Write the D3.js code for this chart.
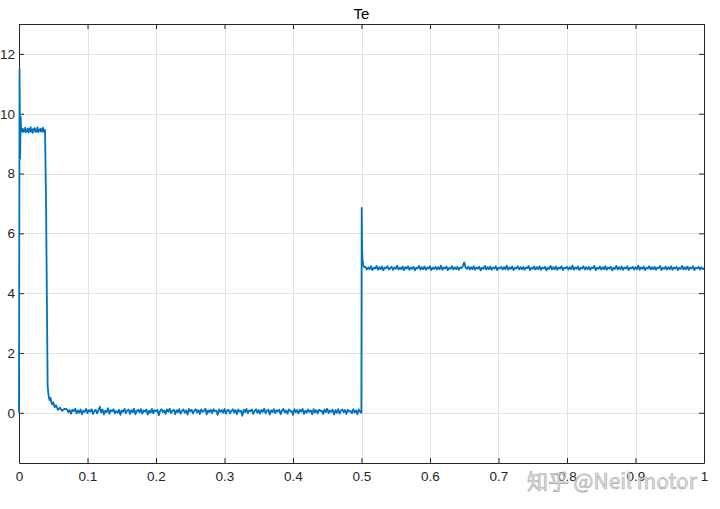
<!DOCTYPE html>
<html><head><meta charset="utf-8">
<script src="https://cdn.jsdelivr.net/npm/d3@7"></script>
<style>body{margin:0;background:#fff}svg{display:block}text{font-family:"Liberation Sans",Arial,sans-serif}</style>
</head><body>
<svg id="c" width="720" height="509"></svg>
<script>
// ---- data ----
const title = "Te";
const xTicks = [0,0.1,0.2,0.3,0.4,0.5,0.6,0.7,0.8,0.9,1];
const xTickLabels = ["0","0.1","0.2","0.3","0.4","0.5","0.6","0.7","0.8","0.9","1"];
const yTicks = [0,2,4,6,8,10,12];
const xDomain = [0,1];
const yDomain = [-1.68,13];

// startup transient (time, value)
const startT = [0,0.0008,0.0016,0.0024,0.0032];
const startV = [0,11.5,8.5,9.9,9.4];
// first plateau samples (start time, step, values)
const plat1Start = 0.004, plat1Step = 0.001;
const plat1V = [9.42,9.5,9.39,9.47,9.41,9.53,9.38,9.46,9.43,9.51,9.37,9.48,9.42,9.55,9.4,9.46,9.36,9.5,9.44,9.52,9.39,9.47,9.41,9.54,9.38,9.45,9.43,9.5,9.4,9.48,9.42,9.53,9.39,9.46];
// drop transient
const dropT = [0.038,0.0395,0.041,0.0418,0.043,0.0445,0.046,0.048,0.05,0.052,0.054,0.057,0.06,0.063,0.066];
const dropV = [9.45,7.0,3.0,0.9,0.6,0.42,0.5,0.28,0.35,0.18,0.25,0.1,0.17,0.06,0.13];
// near-zero samples
const zeroStart = 0.07, zeroStep = 0.002;
const zeroV = [
0.12,0.02,0.09,-0.03,0.1,0.05,0.14,-0.02,0.08,0.0,0.11,-0.05,0.07,0.03,0.13,-0.01,0.09,0.04,0.12,-0.04,
0.06,0.1,-0.02,0.08,0.2,0.01,0.11,-0.06,0.07,0.02,0.15,-0.03,0.09,0.05,0.12,-0.02,0.06,0.0,0.1,-0.07,
0.08,0.03,0.13,-0.01,0.07,0.11,-0.04,0.09,0.02,0.14,-0.05,0.06,0.1,0.01,0.12,-0.03,0.08,0.04,0.11,-0.06,
0.07,0.0,0.13,-0.02,0.09,0.05,0.1,-0.08,0.06,0.12,0.02,0.08,-0.04,0.11,0.03,0.14,-0.01,0.07,0.1,-0.05,
0.09,0.02,0.12,-0.03,0.06,0.11,0.0,0.08,-0.06,0.13,0.04,0.1,-0.02,0.07,0.12,0.01,0.09,-0.04,0.11,0.03,
0.06,0.14,-0.05,0.08,0.02,0.1,-0.01,0.12,0.05,0.07,-0.07,0.11,0.03,0.09,0.0,0.13,-0.03,0.08,0.1,-0.02,
0.06,0.12,0.01,0.09,-0.05,0.11,0.04,0.07,-0.1,0.1,0.02,0.13,-0.01,0.08,0.05,0.11,-0.04,0.06,0.12,0.0,
0.09,-0.03,0.1,0.03,0.14,-0.02,0.07,0.11,-0.06,0.08,0.02,0.12,-0.01,0.09,0.04,0.1,-0.05,0.07,0.13,0.01,
0.08,-0.03,0.11,0.05,0.06,-0.07,0.12,0.02,0.09,-0.02,0.1,0.04,0.13,-0.04,0.07,0.0,0.11,0.03,0.08,-0.05,
0.12,0.01,0.09,-0.02,0.1,0.06,0.07,-0.04,0.11,0.02,0.14,-0.01,0.08,0.03,0.1,-0.06,0.09,0.0,0.12,-0.03,
0.07,0.11,0.02,0.09,-0.04,0.1,0.04,0.06,-0.02,0.12,0.01,0.08,-0.05,0.11,0.03];
// step transient at 0.5
const stepT = [0.4998,0.5003,0.5008,0.5015,0.5025,0.504];
const stepV = [0.0,6.85,5.6,5.1,4.95,4.87];
// second plateau samples
const plat2Start = 0.506, plat2Step = 0.002;
const plat2V = [
4.88,4.79,4.86,4.8,4.9,4.77,4.85,4.82,4.91,4.78,4.87,4.8,4.89,4.76,4.86,4.83,4.9,4.79,4.84,4.88,
4.78,4.86,4.81,4.92,4.79,4.85,4.8,4.89,4.77,4.87,4.82,4.9,4.78,4.86,4.81,4.88,4.76,4.85,4.83,4.91,
4.79,4.87,4.8,4.89,4.78,4.86,4.82,4.9,4.77,4.85,4.81,4.88,4.79,4.87,4.8,4.92,4.78,4.86,4.82,4.89,
4.77,4.85,4.81,4.9,4.79,4.87,4.8,4.88,4.78,4.86,4.83,4.91,5.03,4.85,4.81,4.89,4.79,4.87,4.8,4.9,
4.78,4.86,4.82,4.88,4.76,4.85,4.81,4.91,4.79,4.87,4.8,4.89,4.78,4.86,4.82,4.9,4.77,4.85,4.83,4.88,
4.79,4.87,4.8,4.92,4.78,4.86,4.81,4.89,4.77,4.85,4.82,4.9,4.79,4.87,4.8,4.88,4.78,4.86,4.83,4.91,
4.77,4.85,4.81,4.89,4.79,4.87,4.8,4.9,4.78,4.86,4.82,4.88,4.76,4.85,4.81,4.91,4.79,4.87,4.8,4.89,
4.78,4.86,4.82,4.9,4.77,4.85,4.83,4.88,4.79,4.87,4.8,4.92,4.78,4.86,4.81,4.89,4.77,4.85,4.82,4.9,
4.79,4.87,4.8,4.88,4.78,4.86,4.83,4.91,4.77,4.85,4.81,4.89,4.79,4.87,4.8,4.9,4.78,4.86,4.82,4.88,
4.76,4.85,4.81,4.91,4.79,4.87,4.8,4.89,4.78,4.86,4.82,4.9,4.77,4.85,4.83,4.88,4.79,4.87,4.8,4.92,
4.78,4.86,4.81,4.89,4.77,4.85,4.82,4.9,4.79,4.87,4.8,4.88,4.78,4.86,4.83,4.91,4.77,4.85,4.81,4.89,
4.79,4.87,4.8,4.9,4.78,4.86,4.82,4.88,4.77,4.85,4.81,4.91,4.79,4.87,4.8,4.89,4.78,4.86,4.82,4.9,
4.77,4.85,4.83,4.88,4.79,4.87,4.8,4.84];
const watermark = "知乎 @Neil motor";

// ---- build series ----
const pts = [];
startT.forEach((t,i)=>pts.push([t,startV[i]]));
plat1V.forEach((v,i)=>pts.push([plat1Start+i*plat1Step,v]));
dropT.forEach((t,i)=>pts.push([t,dropV[i]]));
zeroV.forEach((v,i)=>pts.push([zeroStart+i*zeroStep,v]));
stepT.forEach((t,i)=>pts.push([t,stepV[i]]));
plat2V.forEach((v,i)=>{const t=plat2Start+i*plat2Step; if(t<=1.0001) pts.push([Math.min(t,1),v]);});

// ---- layout ----
const W=720,H=509, m={l:19,r:16,t:24,b:46};
const svg=d3.select("#c");
const x=d3.scaleLinear().domain(xDomain).range([m.l,W-m.r]);
const y=d3.scaleLinear().domain(yDomain).range([H-m.b,m.t]);
const iw=W-m.l-m.r, ih=H-m.t-m.b;
const FONT="'Liberation Sans',Arial,sans-serif";

// grid
const g=svg.append("g");
g.selectAll(".gx").data(xTicks.slice(1,-1)).join("line")
 .attr("x1",d=>Math.round(x(d))+0.5).attr("x2",d=>Math.round(x(d))+0.5)
 .attr("y1",m.t).attr("y2",H-m.b).attr("stroke","#e3e3e3");
g.selectAll(".gy").data(yTicks).join("line")
 .attr("y1",d=>Math.round(y(d))+0.5).attr("y2",d=>Math.round(y(d))+0.5)
 .attr("x1",m.l).attr("x2",W-m.r).attr("stroke","#e3e3e3");

// axes (MATLAB style: inward ticks, box)
const tl=-5;
const ax=d3.axisBottom(x).tickValues(xTicks).tickFormat((d,i)=>xTickLabels[i]).tickSizeInner(tl).tickSizeOuter(0).tickPadding(8);
const ay=d3.axisLeft(y).tickValues(yTicks).tickFormat(d3.format("d")).tickSizeInner(tl).tickSizeOuter(0).tickPadding(4);
const axT=d3.axisTop(x).tickValues(xTicks).tickFormat("").tickSizeInner(tl).tickSizeOuter(0);
const ayR=d3.axisRight(y).tickValues(yTicks).tickFormat("").tickSizeInner(tl).tickSizeOuter(0);
function style(s){s.selectAll("path").attr("stroke","#262626");s.selectAll("line").attr("stroke","#262626");
 s.selectAll("text").attr("fill","#262626").style("font-size","13.5px").style("font-family",FONT);}
svg.append("g").attr("transform",`translate(0,${H-m.b})`).call(ax).call(style);
svg.append("g").attr("transform",`translate(${m.l},0)`).call(ay).call(style);
svg.append("g").attr("transform",`translate(0,${m.t})`).call(axT).call(style);
svg.append("g").attr("transform",`translate(${W-m.r},0)`).call(ayR).call(style);

// line (on top of axes, like MATLAB)
svg.append("defs").append("clipPath").attr("id","clip").append("rect")
 .attr("x",m.l-1).attr("y",m.t).attr("width",iw+1).attr("height",ih);
svg.append("path").datum(pts).attr("clip-path","url(#clip)")
 .attr("fill","none").attr("stroke","#0072BD").attr("stroke-width",1.8)
 .attr("stroke-linejoin","round")
 .attr("d",d3.line().x(d=>x(d[0])).y(d=>y(d[1])));

// title
svg.append("text").attr("x",m.l+iw/2).attr("y",19).attr("text-anchor","middle")
 .style("font-size","15px").style("font-family",FONT).attr("fill","#000").text(title);

// watermark
svg.append("text").attr("x",697).attr("y",489).attr("text-anchor","end")
 .style("font-size","21px").style("font-family","'Noto Sans CJK SC','Liberation Sans',sans-serif")
 .attr("fill","#e2e2e2").attr("stroke","#9c9c9c").attr("stroke-width",0.6)
 .attr("opacity",0.9).text(watermark);
</script>
</body></html>
